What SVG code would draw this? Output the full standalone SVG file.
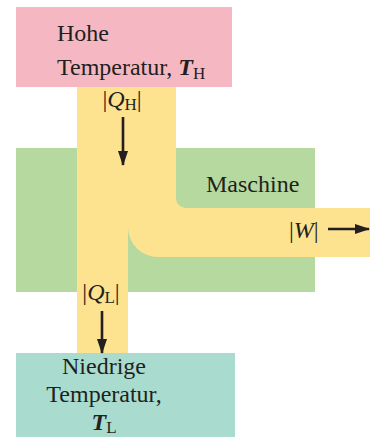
<svg xmlns="http://www.w3.org/2000/svg" width="370" height="437" viewBox="0 0 370 437">
<defs>
<style>
text{font-family:"Liberation Serif","Times New Roman",serif;fill:#231f20;font-size:24px}
.it{font-style:italic}
.bi{font-style:italic;font-weight:bold}
.sub{font-size:17px}
.arr{stroke:#231f20;stroke-width:2.6;fill:none}
</style>
<marker id="ah" viewBox="0 0 15 10" refX="14" refY="5" markerWidth="15" markerHeight="10" orient="auto" markerUnits="userSpaceOnUse">
<path d="M0,0 L15,5 L0,10 Z" fill="#231f20"/>
</marker>
</defs>
<rect width="370" height="437" fill="#ffffff"/>
<g id="maschine">
<rect x="16" y="148" width="299" height="144" fill="#b5d99e"/>
</g>
<g id="flow">
<path d="M77,87 H176 V198 A10,10 0 0 0 186,208 H370 V257 H158 A30,30 0 0 1 128,227 V353 H77 Z" fill="#fde290"/>
</g>
<g id="hot">
<rect x="16" y="7" width="216" height="80" fill="#f5b8c3"/>
<text x="57" y="41">Hohe</text>
<text x="57" y="75">Temperatur, <tspan class="bi">T</tspan><tspan class="sub" dy="4">H</tspan></text>
</g>
<g id="cold">
<rect x="16" y="353" width="219" height="84" fill="#a9dccf"/>
<text x="104" y="374" text-anchor="middle">Niedrige</text>
<text x="104" y="402" text-anchor="middle">Temperatur,</text>
<text x="104" y="430" text-anchor="middle"><tspan class="bi">T</tspan><tspan class="sub" dy="3">L</tspan></text>
</g>
<g id="label-maschine">
<text x="206" y="192">Maschine</text>
</g>
<g id="connectors">
<line class="arr" x1="123" y1="117" x2="123" y2="165" marker-end="url(#ah)"/>
<line class="arr" x1="102" y1="311" x2="102" y2="353" marker-end="url(#ah)"/>
<line class="arr" x1="328" y1="229" x2="369" y2="229" marker-end="url(#ah)"/>
<text x="122" y="107" text-anchor="middle">|<tspan class="it">Q</tspan><tspan class="sub" dy="3">H</tspan><tspan dy="-3">|</tspan></text>
<text x="101" y="300" text-anchor="middle">|<tspan class="it">Q</tspan><tspan class="sub" dy="3">L</tspan><tspan dy="-3">|</tspan></text>
<text x="289" y="238">|<tspan class="it">W</tspan>|</text>
</g>
</svg>
